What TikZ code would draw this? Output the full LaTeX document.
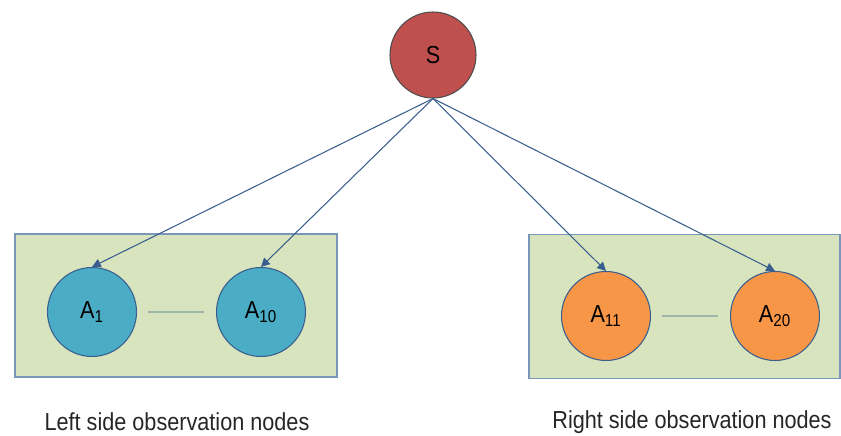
\documentclass[tikz,border=0pt]{standalone}
\usepackage{fontspec}
\setmainfont{Liberation Sans}
\usepackage{xcolor}
\usepackage{tikz}
\usetikzlibrary{arrows.meta,positioning}

\definecolor{srcred}{HTML}{C0504D}
\definecolor{obsblue}{HTML}{4BACC6}
\definecolor{obsorange}{HTML}{F79646}
\definecolor{groupgreen}{HTML}{D7E4BD}
\definecolor{groupedge}{HTML}{7A97BA}
\definecolor{edgeblue}{HTML}{3A5F8F}
\definecolor{linkgray}{HTML}{9CB8A8}

% narrow, tall lettering as in the figure
\newcommand{\narrowtext}[1]{\scalebox{0.88}[1]{#1}}

\begin{document}
\begin{tikzpicture}[
  source/.style={circle, draw=black!70, fill=srcred, minimum size=1.72cm,
    inner sep=0pt, font=\fontsize{14}{16}\selectfont},
  obs/.style={circle, draw=edgeblue, fill=#1, minimum size=1.78cm,
    inner sep=0pt, font=\fontsize{14}{16}\selectfont},
  group/.style={draw=groupedge, thick, fill=groupgreen, inner sep=0pt},
  caption/.style={font=\fontsize{14}{16}\selectfont, text=black!85},
  link/.style={draw=linkgray, shorten <=0.22cm, shorten >=0.24cm},
  edge/.style={draw=edgeblue, -{Triangle[length=5pt,width=5pt]}},
  semithick
]
\useasboundingbox (0,0) rectangle (16.82,8.72);
\node[group, minimum width=6.44cm, minimum height=2.86cm] (left) at (3.52,2.61) {};
\node[group, minimum width=6.22cm, minimum height=2.88cm] (right) at (13.69,2.59) {};

\node[source] (S) at (8.66,7.62) {\narrowtext{S}};
\node[obs=obsblue] (a1) at (1.84,2.48) {\narrowtext{A\textsubscript{1}}};
\node[obs=obsblue] (a10) at (5.22,2.48) {\narrowtext{A\textsubscript{10}}};
\node[obs=obsorange] (a11) at (12.12,2.40) {\narrowtext{A\textsubscript{11}}};
\node[obs=obsorange] (a20) at (15.50,2.40) {\narrowtext{A\textsubscript{20}}};

\node[caption] (lcap) at (3.54,0.28) {\narrowtext{Left side observation nodes}};
\node[caption] (rcap) at (13.84,0.28) {\narrowtext{Right side observation nodes}};

\draw[link] (a1) -- (a10);
\draw[link] (a11) -- (a20);
\draw[edge] (S.south) -- (a1.north);
\draw[edge] (S.south) -- (a10.north);
\draw[edge] (S.south) -- (a11.north);
\draw[edge] (S.south) -- (a20.north);
\end{tikzpicture}
\end{document}
